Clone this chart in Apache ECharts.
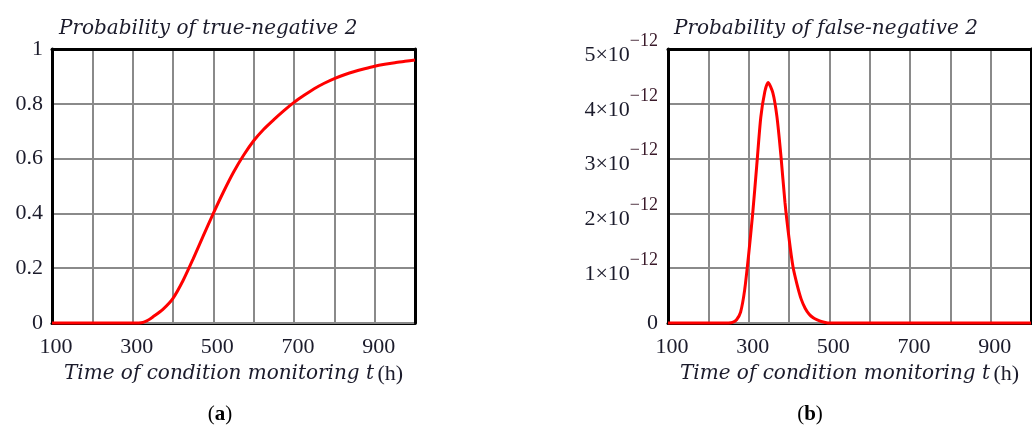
<!DOCTYPE html>
<html>
<head>
<meta charset="utf-8">
<script src="https://cdn.jsdelivr.net/npm/echarts@6/dist/echarts.min.js"></script>
<style>html,body{margin:0;padding:0;background:#fff;}#c{width:1032px;height:426px;}</style>
</head>
<body>
<div id="c"></div>
<script>
// (a) Probability of true-negative 2
const timeA = [100,150,200,250,300,325,340,350,375,400,425,450,475,500,525,550,575,600,625,650,675,700,725,750,775,800,825,850,875,900,925,950,975,1000];
const probA = [0,0,0,0,0,0.002,0.012,0.022,0.05,0.09,0.155,0.234,0.318,0.4,0.478,0.55,0.612,0.665,0.707,0.742,0.775,0.805,0.831,0.855,0.875,0.892,0.906,0.918,0.928,0.937,0.944,0.95,0.955,0.96];
// (b) Probability of false-negative 2, values in units of 1e-12
const timeB = [100,200,250,260,270,280,290,300,310,320,330,340,348,360,370,380,390,400,410,420,430,440,450,460,470,480,490,500,600,700,800,900,1000];
const probB = [0,0,0,0.01,0.06,0.2,0.6,1.25,2.0,2.87,3.75,4.22,4.39,4.2,3.77,3.05,2.2,1.55,1.02,0.7,0.44,0.27,0.16,0.095,0.055,0.028,0.01,0,0,0,0,0,0];
const xTickLabels = [100,300,500,700,900];
const yTicksA = ['0','0.2','0.4','0.6','0.8','1'];
const yTicksB = [0,1,2,3,4,5];
const titles = ['Probability of true-negative 2','Probability of false-negative 2'];
const xName = 'Time of condition monitoring t';
const captions = ['a','b'];

const SERIF = '"Liberation Serif", "Times New Roman", serif';
const ITAL = '"DejaVu Serif", "Liberation Serif", serif';
const txtColor = '#1b1b2b';

function xAxisCfg(gi){
  return {
    gridIndex: gi, type:'value', min:100, max:1000, interval:100,
    axisLine:{show:true, onZero:false, lineStyle:{color:'#000', width:3}},
    axisTick:{show:false},
    splitLine:{show:true, lineStyle:{color:'#8a8a8a', width:2}},
    axisLabel:{
      margin:13, padding:[0,0,0,8], fontFamily:SERIF, fontSize:22, color:txtColor,
      showMaxLabel:false,
      formatter: v => xTickLabels.indexOf(Math.round(v))>=0 ? String(Math.round(v)) : ''
    },
    name: '{i|' + xName + '} {r|(h)}', nameLocation:'middle', nameGap:37,
    nameTextStyle:{ rich:{
      i:{fontFamily:ITAL, fontStyle:'italic', fontSize:20, color:txtColor},
      r:{fontFamily:SERIF, fontSize:22, color:txtColor}
    }}
  };
}
function frameX(gi){
  return {gridIndex:gi, type:'value', position:'top', min:100, max:1000, z:5,
    axisLine:{show:true, onZero:false, lineStyle:{color:'#000', width:3}},
    axisTick:{show:false}, axisLabel:{show:false}, splitLine:{show:false}};
}
function frameY(gi, mx){
  return {gridIndex:gi, type:'value', position:'right', min:0, max:mx, z:5,
    axisLine:{show:true, onZero:false, lineStyle:{color:'#000', width:3}},
    axisTick:{show:false}, axisLabel:{show:false}, splitLine:{show:false}};
}

const option = {
  animation:false,
  backgroundColor:'#fff',
  title:[
    {text:titles[0], left:54, top:14, textStyle:{fontFamily:ITAL, fontStyle:'italic', fontWeight:'normal', fontSize:20, color:txtColor}},
    {text:titles[1], left:669, top:14, textStyle:{fontFamily:ITAL, fontStyle:'italic', fontWeight:'normal', fontSize:20, color:txtColor}},
    {text:'({b|'+captions[0]+'})', left:215, top:399, textAlign:'center', textStyle:{fontFamily:SERIF, fontWeight:'normal', fontSize:21, color:'#000', rich:{b:{fontFamily:SERIF, fontWeight:'bold', fontSize:21, color:'#000'}}}},
    {text:'({b|'+captions[1]+'})', left:805, top:399, textAlign:'center', textStyle:{fontFamily:SERIF, fontWeight:'normal', fontSize:21, color:'#000', rich:{b:{fontFamily:SERIF, fontWeight:'bold', fontSize:21, color:'#000'}}}}
  ],
  grid:[
    {left:52, top:49, width:363, height:274},
    {left:668, top:49, width:363, height:274}
  ],
  xAxis:[ xAxisCfg(0), xAxisCfg(1), frameX(0), frameX(1) ],
  yAxis:[
    {gridIndex:0, type:'value', min:0, max:1, interval:0.2, z:5,
     axisLine:{show:true, lineStyle:{color:'#000', width:3}}, axisTick:{show:false},
     splitLine:{show:true, lineStyle:{color:'#8a8a8a', width:2}},
     axisLabel:{margin:9, fontFamily:SERIF, fontSize:22, color:txtColor,
       formatter: v => yTicksA[Math.round(v*5)]}},
    {gridIndex:1, type:'value', min:0, max:5, interval:1, z:5,
     axisLine:{show:true, lineStyle:{color:'#000', width:3}}, axisTick:{show:false},
     splitLine:{show:true, lineStyle:{color:'#8a8a8a', width:2}},
     axisLabel:{margin:10, fontFamily:SERIF, fontSize:22, color:txtColor,
       formatter: v => { const k = yTicksB[Math.round(v)]; return k===0 ? '{z|0}' : '{n|'+k+'×10}{s|−12}'; },
       rich:{
         z:{fontFamily:SERIF, fontSize:22, color:txtColor},
         n:{fontFamily:SERIF, fontSize:22, color:txtColor, verticalAlign:'bottom', height:22, lineHeight:34},
         s:{fontFamily:SERIF, fontSize:18, color:'#3a1a2a', verticalAlign:'top', height:18, lineHeight:18}
       }}},
    frameY(0, 1), frameY(1, 5)
  ],
  series:[
    {type:'line', xAxisIndex:0, yAxisIndex:0, showSymbol:false, smooth:0.25, z:10, clip:false,
     lineStyle:{color:'#ff0000', width:3}, data: timeA.map((t,i)=>[t, probA[i]])},
    {type:'line', xAxisIndex:1, yAxisIndex:1, showSymbol:false, smooth:0.25, z:10, clip:false,
     lineStyle:{color:'#ff0000', width:3}, data: timeB.map((t,i)=>[t, probB[i]])}
  ]
};
const chart = echarts.init(document.getElementById('c'), null, {renderer:'canvas'});
chart.setOption(option);
</script>
</body>
</html>
